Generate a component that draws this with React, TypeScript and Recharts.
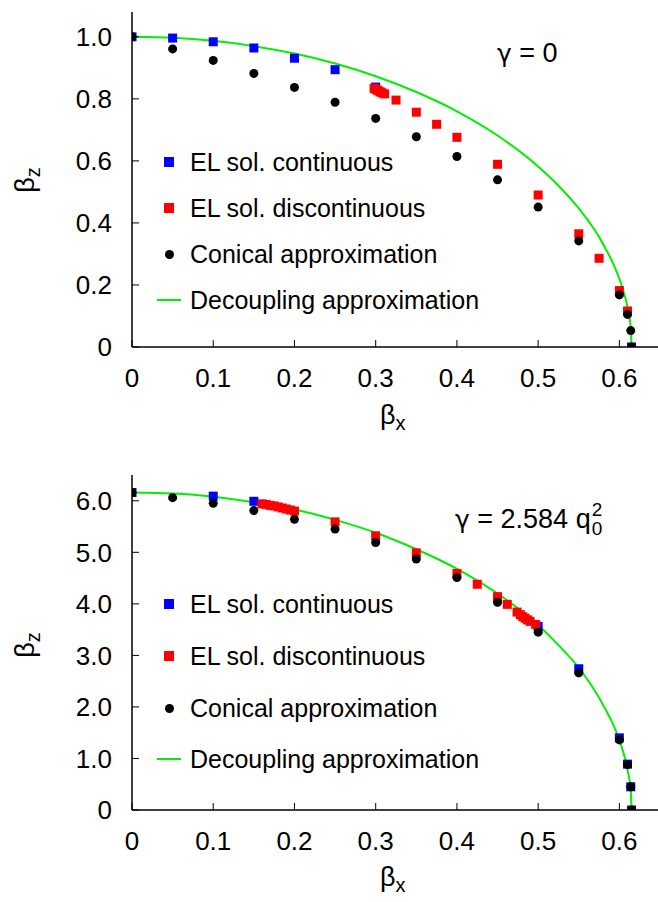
import React from "react";
import { ComposedChart, Scatter, Line, XAxis, YAxis } from "recharts";

// ---- top panel (gamma = 0) ----
const topContX = [0, 0.05, 0.1, 0.15, 0.2, 0.25, 0.3, 0.615];
const topContY = [1.0, 0.996, 0.984, 0.964, 0.931, 0.894, 0.838, 0];

const topDiscX = [0.298, 0.3, 0.302, 0.304, 0.306, 0.308, 0.311, 0.325, 0.35, 0.375, 0.4, 0.45, 0.5, 0.55, 0.575, 0.6, 0.61];
const topDiscY = [0.834, 0.831, 0.828, 0.825, 0.822, 0.819, 0.816, 0.796, 0.757, 0.718, 0.676, 0.589, 0.49, 0.365, 0.286, 0.182, 0.116];

const topConX = [0, 0.05, 0.1, 0.15, 0.2, 0.25, 0.3, 0.35, 0.4, 0.45, 0.5, 0.55, 0.6, 0.61, 0.614, 0.615];
const topConY = [1.0, 0.961, 0.924, 0.882, 0.837, 0.789, 0.737, 0.678, 0.614, 0.539, 0.451, 0.342, 0.168, 0.105, 0.053, 0];

const topDecX = [0, 0.05, 0.1, 0.15, 0.2, 0.25, 0.3, 0.35, 0.4, 0.45, 0.5, 0.525, 0.55, 0.565, 0.575, 0.585, 0.59, 0.595, 0.6, 0.605, 0.608, 0.61, 0.612, 0.614, 0.615];
const topDecY = [1.0, 0.997, 0.987, 0.97, 0.946, 0.914, 0.873, 0.822, 0.76, 0.682, 0.582, 0.52, 0.447, 0.395, 0.355, 0.307, 0.282, 0.253, 0.22, 0.18, 0.152, 0.127, 0.1, 0.06, 0];

// ---- bottom panel (gamma = 2.584 q0^2) ----
const botContX = [0, 0.1, 0.15, 0.5, 0.55, 0.6, 0.61, 0.614, 0.615];
const botContY = [6.16, 6.09, 5.99, 3.56, 2.74, 1.4, 0.89, 0.45, 0];

const botDiscX = [0.16, 0.165, 0.17, 0.175, 0.18, 0.185, 0.19, 0.195, 0.2, 0.25, 0.3, 0.35, 0.4, 0.425, 0.45, 0.462, 0.474, 0.478, 0.481, 0.484, 0.487, 0.49, 0.497];
const botDiscY = [5.94, 5.93, 5.91, 5.9, 5.88, 5.86, 5.84, 5.82, 5.8, 5.59, 5.32, 4.99, 4.59, 4.38, 4.14, 3.99, 3.84, 3.79, 3.75, 3.72, 3.69, 3.66, 3.6];

const botConX = [0, 0.05, 0.1, 0.15, 0.2, 0.25, 0.3, 0.35, 0.4, 0.45, 0.5, 0.55, 0.6, 0.61, 0.614, 0.615];
const botConY = [6.16, 6.06, 5.95, 5.81, 5.64, 5.45, 5.19, 4.87, 4.51, 4.03, 3.45, 2.66, 1.36, 0.88, 0.45, 0];

const botDecX = [0, 0.05, 0.1, 0.15, 0.2, 0.25, 0.3, 0.35, 0.4, 0.45, 0.5, 0.525, 0.55, 0.565, 0.575, 0.585, 0.59, 0.595, 0.6, 0.605, 0.608, 0.61, 0.612, 0.614, 0.615];
const botDecY = [6.16, 6.14, 6.08, 5.97, 5.83, 5.63, 5.38, 5.06, 4.68, 4.2, 3.59, 3.2, 2.76, 2.43, 2.18, 1.89, 1.74, 1.56, 1.36, 1.11, 0.94, 0.78, 0.62, 0.37, 0];

const xTicks = [0, 0.1, 0.2, 0.3, 0.4, 0.5, 0.6];
const topYTicks = [0, 0.2, 0.4, 0.6, 0.8, 1.0];
const botYTicks = [0, 1, 2, 3, 4, 5, 6];

const legendNames = ["EL sol. continuous", "EL sol. discontinuous", "Conical approximation", "Decoupling approximation"];

const FONT = "'Liberation Sans', Arial, Helvetica, sans-serif";
const GREEK = "'DejaVu Sans', sans-serif";
const BLUE = "#0000ff";
const RED = "#ff0000";
const GREEN = "#00f000";

const zip = (xs: number[], ys: number[]) => xs.map((x, i) => ({ x, y: ys[i] }));

const square = (color: string) => (p: any) => (
  <rect x={p.cx - 4.5} y={p.cy - 4.5} width={9} height={9} fill={color} />
);
const dot = (p: any) => <circle cx={p.cx} cy={p.cy} r={4.5} fill="#000" />;

const fmt = (v: number) => (v === 0 ? "0" : v.toFixed(1));
const tickStyle = { fontSize: 26, fill: "#000", fontFamily: FONT };
const axisLine = { stroke: "#000", strokeWidth: 1.5 };

function Panel(props: {
  top: number;
  height: number;
  marginTop: number;
  xAxisH: number;
  yMax: number;
  yTicks: number[];
  cont: { x: number; y: number }[];
  disc: { x: number; y: number }[];
  con: { x: number; y: number }[];
  dec: { x: number; y: number }[];
}) {
  return (
    <div style={{ position: "absolute", left: 0, top: props.top }}>
      <ComposedChart
        width={670}
        height={props.height}
        margin={{ top: props.marginTop, right: 10, left: 0, bottom: 0 }}
      >
        <XAxis
          xAxisId="b"
          type="number"
          dataKey="x"
          domain={[0, 0.65]}
          ticks={xTicks}
          interval={0}
          height={props.xAxisH}
          tickSize={-7}
          tickMargin={29}
          tickFormatter={fmt}
          tick={tickStyle}
          axisLine={axisLine}
          tickLine={{ stroke: "#000" }}
          allowDataOverflow
        />
        <XAxis
          xAxisId="t"
          orientation="top"
          type="number"
          domain={[0, 0.65]}
          ticks={xTicks}
          interval={0}
          height={0}
          tickSize={-7}
          tick={false}
          axisLine={axisLine}
          tickLine={{ stroke: "#000" }}
          allowDataOverflow
        />
        <YAxis
          yAxisId="l"
          type="number"
          dataKey="y"
          domain={[0, props.yMax]}
          ticks={props.yTicks}
          interval={0}
          width={132}
          tickSize={-7}
          tickMargin={27}
          tickFormatter={fmt}
          tick={tickStyle}
          axisLine={axisLine}
          tickLine={{ stroke: "#000" }}
          allowDataOverflow
        />
        <YAxis
          yAxisId="r"
          orientation="right"
          type="number"
          domain={[0, props.yMax]}
          ticks={props.yTicks}
          interval={0}
          width={0}
          tickSize={-7}
          tick={false}
          axisLine={axisLine}
          tickLine={{ stroke: "#000" }}
          allowDataOverflow
        />
        <Line
          xAxisId="b"
          yAxisId="l"
          data={props.dec}
          dataKey="y"
          type="monotone"
          stroke={GREEN}
          strokeWidth={2}
          dot={false}
          activeDot={false}
          isAnimationActive={false}
        />
        <Scatter xAxisId="b" yAxisId="l" data={props.cont} dataKey="y" shape={square(BLUE)} isAnimationActive={false} />
        <Scatter xAxisId="b" yAxisId="l" data={props.disc} dataKey="y" shape={square(RED)} isAnimationActive={false} />
        <Scatter xAxisId="b" yAxisId="l" data={props.con} dataKey="y" shape={dot} isAnimationActive={false} />
      </ComposedChart>
    </div>
  );
}

function LegendBox({ rows }: { rows: number[] }) {
  const marks = [
    <div style={{ width: 10, height: 10, background: BLUE }} />,
    <div style={{ width: 10, height: 10, background: RED }} />,
    <div style={{ width: 9, height: 9, borderRadius: "50%", background: "#000" }} />,
    <div style={{ width: 24, height: 2, background: GREEN }} />,
  ];
  return (
    <>
      {legendNames.map((name, i) => (
        <React.Fragment key={name}>
          <div
            style={{
              position: "absolute",
              left: 169 - 12,
              top: rows[i] - 6,
              width: 24,
              height: 12,
              display: "flex",
              alignItems: "center",
              justifyContent: "center",
            }}
          >
            {marks[i]}
          </div>
          <div
            style={{
              position: "absolute",
              left: 190,
              top: rows[i] - 15,
              fontSize: 25,
              lineHeight: "30px",
              fontFamily: FONT,
              whiteSpace: "nowrap",
            }}
          >
            {name}
          </div>
        </React.Fragment>
      ))}
    </>
  );
}

const labelStyle: React.CSSProperties = {
  position: "absolute",
  fontFamily: FONT,
  fontSize: 27,
  lineHeight: "30px",
  whiteSpace: "nowrap",
};

export default function App() {
  return (
    <div style={{ position: "relative", width: 658, height: 902, overflow: "hidden", background: "#fff" }}>
      <style>{"body{margin:0}"}</style>
      <Panel
        top={0}
        height={440}
        marginTop={12}
        xAxisH={93}
        yMax={1.08}
        yTicks={topYTicks}
        cont={zip(topContX, topContY)}
        disc={zip(topDiscX, topDiscY)}
        con={zip(topConX, topConY)}
        dec={zip(topDecX, topDecY)}
      />
      <Panel
        top={460}
        height={442}
        marginTop={15}
        xAxisH={92}
        yMax={6.5}
        yTicks={botYTicks}
        cont={zip(botContX, botContY)}
        disc={zip(botDiscX, botDiscY)}
        con={zip(botConX, botConY)}
        dec={zip(botDecX, botDecY)}
      />
      <LegendBox rows={[162, 208, 254, 300]} />
      <LegendBox rows={[604, 656, 708, 759]} />

      <div style={{ ...labelStyle, left: 497, top: 38 }}>
        <span style={{ fontFamily: GREEK, fontSize: 25 }}>γ</span> = 0
      </div>
      <div style={{ ...labelStyle, left: 455, top: 500, display: "flex", alignItems: "center" }}>
        <span>
          <span style={{ fontFamily: GREEK, fontSize: 25 }}>γ</span> = 2.584 q
        </span>
        <span
          style={{ display: "inline-flex", flexDirection: "column", fontSize: 19, lineHeight: "19px", marginLeft: 1 }}
        >
          <span>2</span>
          <span>0</span>
        </span>
      </div>

      <div style={{ ...labelStyle, left: 380, top: 400 }}>
        β<sub style={{ fontSize: 20 }}>x</sub>
      </div>
      <div style={{ ...labelStyle, left: 380, top: 862 }}>
        β<sub style={{ fontSize: 20 }}>x</sub>
      </div>
      <div style={{ ...labelStyle, left: 29, top: 180, transform: "translate(-50%, -50%) rotate(-90deg)" }}>
        β<sub style={{ fontSize: 20 }}>z</sub>
      </div>
      <div style={{ ...labelStyle, left: 29, top: 645, transform: "translate(-50%, -50%) rotate(-90deg)" }}>
        β<sub style={{ fontSize: 20 }}>z</sub>
      </div>
    </div>
  );
}
